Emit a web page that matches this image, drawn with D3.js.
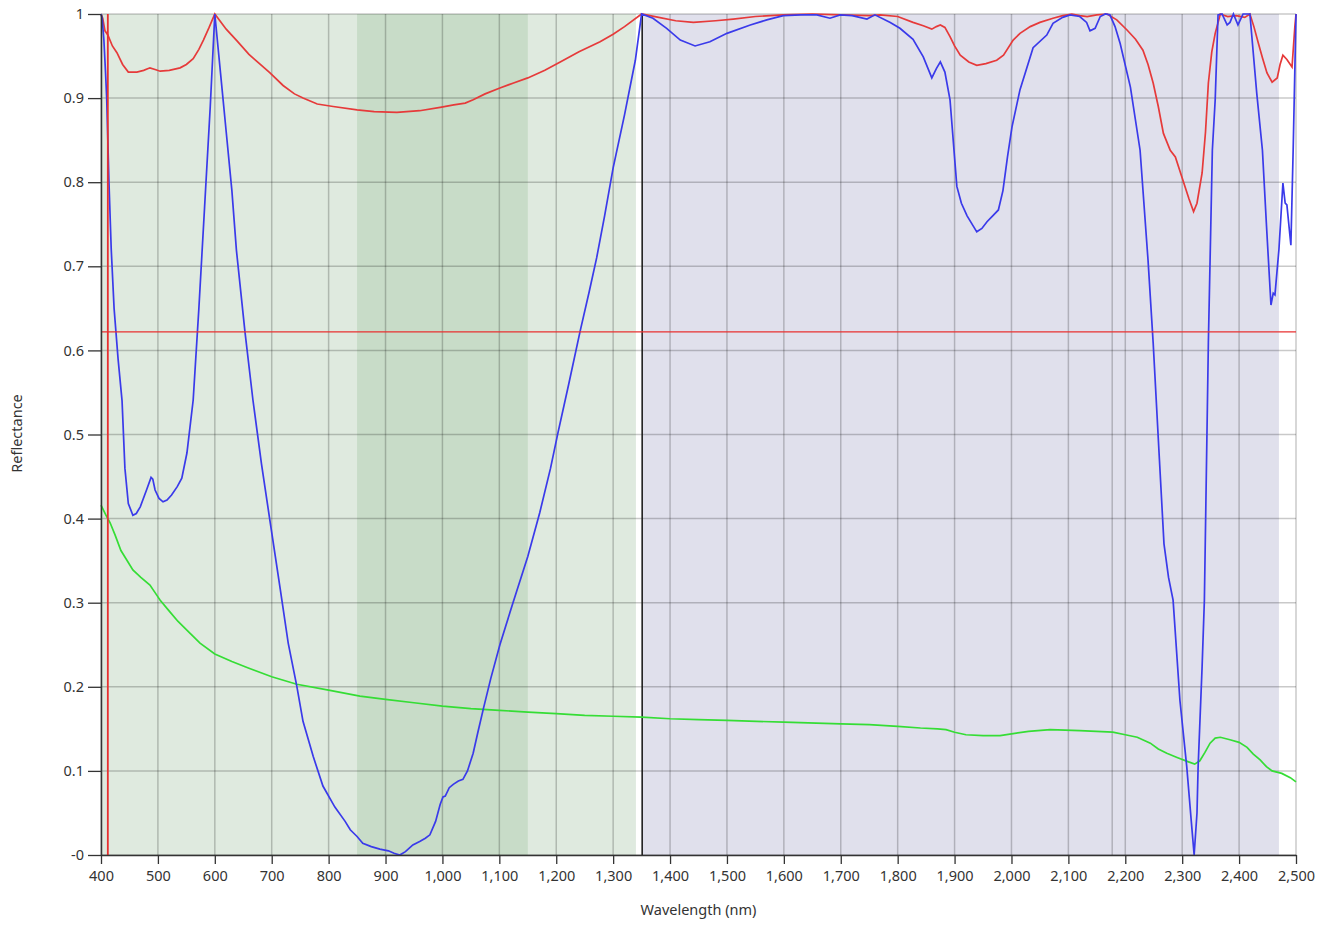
<!DOCTYPE html>
<html>
<head>
<meta charset="utf-8">
<script src="https://cdn.jsdelivr.net/npm/d3@7"></script>
<style>
  html, body { margin: 0; padding: 0; background: #ffffff; }
  svg { display: block; }
</style>
</head>
<body>
<svg id="chart" width="1334" height="941"></svg>
<script>
// ---------- DATA ----------
const xTicks = [400,500,600,700,800,900,1000,1100,1200,1300,1400,1500,1600,1700,1800,1900,2000,2100,2200,2300,2400,2500];
const yTicks = [0,0.1,0.2,0.3,0.4,0.5,0.6,0.7,0.8,0.9,1];
const yTickLabels = ["-0","0.1","0.2","0.3","0.4","0.5","0.6","0.7","0.8","0.9","1"];
const extraGridNm = [2177];

// shaded bands [start nm, end nm]
const bandLightGreen = [400, 1340];
const bandDarkGreen = [850, 1150];
const bandLavender = [1352, 2470];
const blackMarkerNm = 1351;
const redCursorNm = 412;
const redCursorReflectance = 0.622;

const blueSeries = [[400,1.0],[402,0.995],[405,0.97],[408,0.93],[410,0.9],[414,0.8],[418,0.72],[423,0.65],[430,0.59],[437,0.54],[442,0.46],[448,0.418],[456,0.404],[462,0.406],[469,0.414],[480,0.434],[488,0.449],[491,0.447],[495,0.434],[502,0.424],[509,0.42],[516,0.422],[524,0.428],[534,0.438],[542,0.448],[551,0.478],[562,0.541],[572,0.65],[582,0.77],[592,0.89],[600,1.0],[610,0.93],[620,0.86],[630,0.79],[638,0.719],[653,0.622],[667,0.541],[682,0.465],[697,0.397],[715,0.316],[729,0.252],[744,0.201],[755,0.159],[773,0.117],[790,0.082],[811,0.057],[829,0.04],[838,0.03],[850,0.022],[860,0.014],[875,0.01],[890,0.007],[905,0.005],[915,0.002],[925,0.0],[935,0.004],[948,0.012],[960,0.016],[970,0.02],[978,0.024],[988,0.04],[996,0.06],[1001,0.069],[1005,0.07],[1012,0.08],[1019,0.084],[1028,0.088],[1036,0.09],[1044,0.1],[1054,0.121],[1062,0.145],[1072,0.174],[1085,0.21],[1101,0.25],[1124,0.30],[1150,0.355],[1171,0.407],[1190,0.46],[1203,0.502],[1222,0.56],[1242,0.623],[1258,0.67],[1271,0.71],[1285,0.76],[1300,0.817],[1320,0.88],[1339,0.945],[1350,1.0],[1370,0.995],[1394,0.983],[1418,0.969],[1444,0.962],[1470,0.967],[1500,0.977],[1541,0.987],[1570,0.993],[1599,0.998],[1630,0.999],[1658,0.999],[1681,0.995],[1699,0.999],[1720,0.998],[1746,0.994],[1760,0.999],[1787,0.99],[1804,0.983],[1827,0.97],[1845,0.949],[1860,0.924],[1868,0.935],[1875,0.943],[1883,0.931],[1892,0.898],[1904,0.795],[1912,0.775],[1922,0.76],[1939,0.741],[1948,0.745],[1957,0.753],[1967,0.76],[1977,0.767],[1985,0.79],[1993,0.83],[2001,0.866],[2015,0.91],[2038,0.96],[2062,0.975],[2073,0.989],[2090,0.996],[2103,0.999],[2120,0.997],[2132,0.99],[2138,0.98],[2147,0.983],[2156,0.997],[2165,1.0],[2173,0.999],[2182,0.985],[2191,0.965],[2209,0.913],[2226,0.838],[2240,0.707],[2249,0.609],[2260,0.47],[2268,0.37],[2276,0.33],[2284,0.303],[2296,0.184],[2308,0.105],[2316,0.04],[2321,0.0],[2326,0.05],[2328,0.105],[2335,0.224],[2339,0.303],[2346,0.609],[2349,0.707],[2353,0.838],[2358,0.898],[2363,0.999],[2370,1.0],[2379,0.987],[2384,0.99],[2390,1.0],[2398,0.987],[2407,1.0],[2419,1.0],[2431,0.906],[2441,0.838],[2448,0.75],[2456,0.654],[2460,0.668],[2463,0.666],[2470,0.72],[2477,0.799],[2481,0.775],[2484,0.773],[2491,0.725],[2495,0.838],[2500,1.0]];

const redSeries = [[400,1.0],[403,0.995],[407,0.98],[412,0.975],[420,0.962],[428,0.954],[438,0.94],[448,0.931],[463,0.931],[475,0.933],[486,0.936],[495,0.934],[504,0.932],[520,0.933],[539,0.936],[550,0.94],[562,0.947],[572,0.958],[580,0.969],[590,0.984],[600,1.0],[620,0.982],[639,0.968],[660,0.952],[680,0.94],[697,0.93],[720,0.915],[740,0.905],[755,0.9],[780,0.893],[808,0.89],[850,0.886],[880,0.884],[920,0.883],[960,0.885],[996,0.889],[1020,0.892],[1040,0.894],[1054,0.898],[1075,0.905],[1101,0.912],[1125,0.918],[1150,0.924],[1180,0.933],[1207,0.943],[1240,0.955],[1277,0.967],[1300,0.976],[1320,0.985],[1350,1.0],[1380,0.996],[1410,0.992],[1441,0.99],[1480,0.992],[1511,0.994],[1550,0.997],[1599,0.999],[1650,1.0],[1700,0.999],[1750,0.998],[1769,0.999],[1800,0.997],[1827,0.99],[1845,0.986],[1860,0.982],[1868,0.985],[1875,0.987],[1883,0.984],[1892,0.973],[1900,0.962],[1910,0.951],[1925,0.943],[1939,0.939],[1955,0.941],[1974,0.945],[1986,0.951],[2003,0.969],[2015,0.977],[2033,0.985],[2050,0.99],[2073,0.995],[2090,0.998],[2106,1.0],[2120,0.998],[2133,0.997],[2150,0.999],[2168,1.0],[2185,0.993],[2203,0.981],[2218,0.97],[2231,0.957],[2240,0.94],[2249,0.918],[2258,0.89],[2267,0.858],[2279,0.838],[2288,0.83],[2300,0.805],[2312,0.78],[2320,0.765],[2326,0.775],[2335,0.811],[2341,0.86],[2346,0.918],[2352,0.955],[2358,0.977],[2367,1.0],[2380,0.997],[2395,0.998],[2410,0.996],[2419,1.0],[2426,0.985],[2434,0.965],[2441,0.948],[2449,0.93],[2458,0.919],[2467,0.924],[2472,0.94],[2477,0.951],[2484,0.946],[2493,0.937],[2498,0.985],[2500,1.0]];

const greenSeries = [[400,0.416],[408,0.405],[416,0.395],[425,0.38],[435,0.362],[445,0.351],[456,0.339],[470,0.33],[486,0.321],[495,0.312],[504,0.303],[520,0.29],[535,0.278],[550,0.268],[574,0.252],[600,0.239],[630,0.23],[660,0.222],[700,0.212],[744,0.203],[800,0.196],[855,0.189],[900,0.185],[950,0.181],[1000,0.177],[1050,0.174],[1100,0.172],[1150,0.17],[1200,0.168],[1250,0.166],[1300,0.165],[1350,0.164],[1400,0.162],[1450,0.161],[1500,0.16],[1600,0.158],[1700,0.156],[1750,0.155],[1800,0.153],[1840,0.151],[1870,0.15],[1885,0.149],[1900,0.146],[1920,0.143],[1950,0.142],[1980,0.142],[2000,0.144],[2030,0.147],[2068,0.149],[2120,0.148],[2178,0.146],[2200,0.143],[2221,0.14],[2244,0.133],[2258,0.126],[2273,0.121],[2291,0.116],[2310,0.111],[2322,0.108],[2331,0.112],[2340,0.122],[2349,0.133],[2358,0.139],[2367,0.14],[2384,0.137],[2400,0.134],[2414,0.128],[2425,0.12],[2437,0.113],[2448,0.105],[2458,0.1],[2475,0.097],[2490,0.092],[2500,0.087]];

const xTitle = "Wavelength (nm)";
const yTitle = "Reflectance";

// ---------- LAYOUT ----------
const svg = d3.select("#chart");
const mLeft = 101, mRight = 1296, mTop = 14, mBottom = 855;
const x = d3.scaleLinear().domain([400, 2500]).range([mLeft, mRight]);
const y = d3.scaleLinear().domain([0, 1]).range([mBottom, mTop]);
const fontFam = "'Noto Sans', 'DejaVu Sans', sans-serif";

// bands
function band(r, color) {
  svg.append("rect")
    .attr("x", x(r[0])).attr("y", mTop)
    .attr("width", x(r[1]) - x(r[0])).attr("height", mBottom - mTop)
    .attr("fill", color);
}
band(bandLightGreen, "#dfeadf");
band(bandDarkGreen, "#c8dcc8");
band(bandLavender, "#e0e0ec");

// grid
const grid = svg.append("g");
grid.selectAll("line.v").data(xTicks.concat(extraGridNm)).enter().append("line")
  .attr("x1", d => x(d)).attr("x2", d => x(d))
  .attr("y1", mTop).attr("y2", mBottom)
  .attr("stroke", "rgba(0,0,0,0.21)").attr("stroke-width", 1.5);
grid.selectAll("line.h").data(yTicks).enter().append("line")
  .attr("x1", mLeft).attr("x2", mRight)
  .attr("y1", d => y(d)).attr("y2", d => y(d))
  .attr("stroke", "rgba(0,0,0,0.21)").attr("stroke-width", 1.5);

// black marker
svg.append("line")
  .attr("x1", x(blackMarkerNm)).attr("x2", x(blackMarkerNm))
  .attr("y1", mTop).attr("y2", mBottom)
  .attr("stroke", "#111").attr("stroke-width", 1.5);

// series
const line = d3.line().x(d => x(d[0])).y(d => y(d[1]));
svg.append("path").datum(greenSeries).attr("d", line)
  .attr("fill", "none").attr("stroke", "#35dd35").attr("stroke-width", 1.7);
svg.append("path").datum(redSeries).attr("d", line)
  .attr("fill", "none").attr("stroke", "#e63a3a").attr("stroke-width", 1.7);
svg.append("path").datum(blueSeries).attr("d", line)
  .attr("fill", "none").attr("stroke", "#3a3aea").attr("stroke-width", 1.7);

// red cursors
svg.append("line")
  .attr("x1", mLeft).attr("x2", mRight)
  .attr("y1", y(redCursorReflectance)).attr("y2", y(redCursorReflectance))
  .attr("stroke", "#e83030").attr("stroke-width", 1.3);
svg.append("line")
  .attr("x1", x(redCursorNm)).attr("x2", x(redCursorNm))
  .attr("y1", mTop).attr("y2", mBottom)
  .attr("stroke", "#e83030").attr("stroke-width", 1.8);

// axes
const xAxis = d3.axisBottom(x).tickValues(xTicks).tickSize(9).tickSizeOuter(0)
  .tickFormat(d3.format(","));
const gx = svg.append("g").attr("transform", `translate(0,${mBottom})`).call(xAxis);
gx.select(".domain").attr("stroke", "#333").attr("stroke-width", 1.5);
gx.selectAll(".tick line").attr("stroke", "#333").attr("stroke-width", 1.3);
gx.selectAll("text").attr("font-family", fontFam).attr("font-size", 14.5)
  .attr("fill", "#333").attr("dy", "0.71em").attr("y", 16);

const yAxis = d3.axisLeft(y).tickValues(yTicks).tickSize(13).tickSizeOuter(0)
  .tickFormat((d, i) => yTickLabels[i]);
const gy = svg.append("g").attr("transform", `translate(${mLeft},0)`).call(yAxis);
gy.select(".domain").attr("stroke", "#333").attr("stroke-width", 1.5);
gy.selectAll(".tick line").attr("stroke", "#333").attr("stroke-width", 1.3);
gy.selectAll("text").attr("font-family", fontFam).attr("font-size", 14.5)
  .attr("fill", "#333").attr("x", -17);

// titles
svg.append("text").attr("x", (mLeft + mRight) / 2).attr("y", 915)
  .attr("text-anchor", "middle").attr("font-family", fontFam).attr("font-size", 14.5)
  .attr("fill", "#333").text(xTitle);
svg.append("text").attr("transform", `translate(22,${(mTop + mBottom) / 2 - 1}) rotate(-90)`)
  .attr("text-anchor", "middle").attr("font-family", fontFam).attr("font-size", 14.5)
  .attr("fill", "#333").text(yTitle);
</script>
</body>
</html>
